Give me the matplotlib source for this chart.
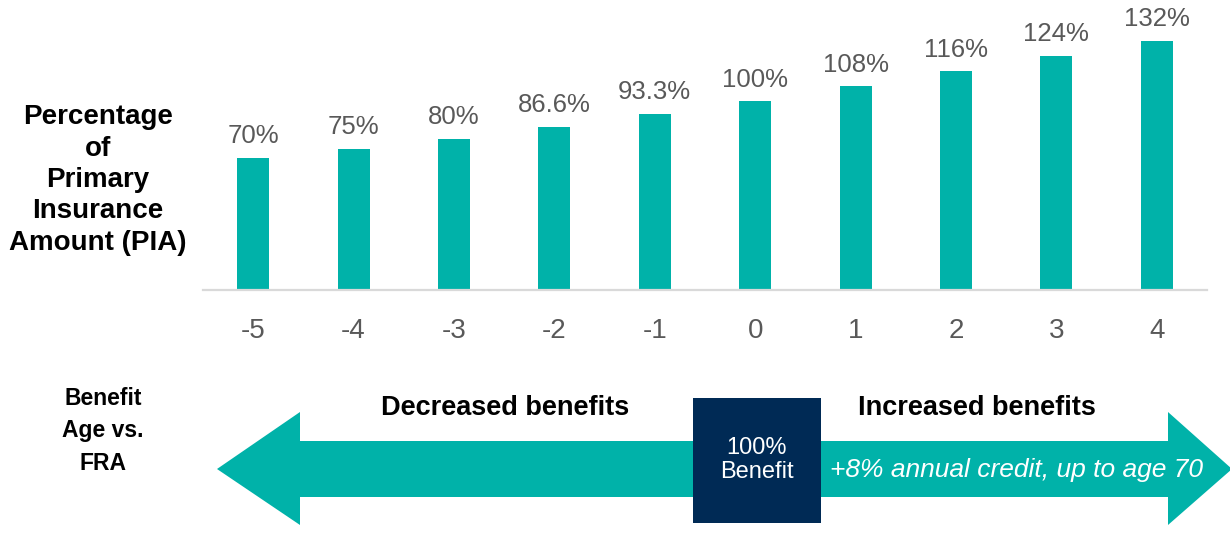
import numpy as np
import matplotlib
matplotlib.use("Agg")
import matplotlib.pyplot as plt
from matplotlib.patches import Polygon, Rectangle

plt.rcParams["font.family"] = ["Liberation Sans", "DejaVu Sans"]

# data
ages = ["-5", "-4", "-3", "-2", "-1", "0", "1", "2", "3", "4"]
pct = [70, 75, 80, 86.6, 93.3, 100, 108, 116, 124, 132]
pct_labels = ["70%", "75%", "80%", "86.6%", "93.3%", "100%", "108%", "116%", "124%", "132%"]

TEAL = "#00B2A9"
NAVY = "#002A55"
GREY = "#595959"
W, H = 1230, 533

fig = plt.figure(figsize=(W / 100, H / 100), dpi=100)

# bar chart, positioned in pixels
x0, x1, ybase = 203, 1207, 290
ax = fig.add_axes([x0 / W, 1 - ybase / H, (x1 - x0) / W, ybase / H])
x = np.arange(len(ages))
ax.bar(x, pct, width=0.32, color=TEAL, zorder=2)
for xi, v, lab in zip(x, pct, pct_labels):
    ax.annotate(lab, (xi, v), xytext=(0, 7), textcoords="offset points",
                ha="center", va="bottom", fontsize=18.5, color=GREY)
ax.set_xlim(-0.5, len(ages) - 0.5)
ax.set_ylim(0, ybase / 1.886)
ax.set_xticks(x)
ax.set_xticklabels(ages, fontsize=20, color=GREY)
ax.tick_params(axis="x", length=0, pad=20)
ax.set_yticks([])
for s in ["top", "right", "left"]:
    ax.spines[s].set_visible(False)
ax.spines["bottom"].set_color("#D9D9D9")
ax.spines["bottom"].set_linewidth(1.6)
ax.patch.set_alpha(0)

fig.text(98 / W, 1 - 180 / H, "Percentage\nof\nPrimary\nInsurance\nAmount (PIA)",
         ha="center", va="center", fontsize=20, fontweight="bold",
         linespacing=1.27, color="black")

# arrow panel drawn in pixel space
pa = fig.add_axes([0, 0, 1, 1], zorder=-1)
pa.set_xlim(0, W)
pa.set_ylim(H, 0)
pa.axis("off")

shaft_top, shaft_bot = 441, 497
head_top, head_bot = 412, 525
mid = (shaft_top + shaft_bot) / 2
arrow = [(217, mid), (300, head_top), (300, shaft_top), (1168, shaft_top),
         (1168, head_top), (1232, mid), (1168, head_bot), (1168, shaft_bot),
         (300, shaft_bot), (300, head_bot)]
pa.add_patch(Polygon(arrow, closed=True, facecolor=TEAL, edgecolor="none"))
pa.add_patch(Rectangle((693, 398), 128, 125, facecolor=NAVY, edgecolor="none"))

pa.text(757, 460, "100%\nBenefit", ha="center", va="center", color="white",
        fontsize=17, linespacing=1.15)
pa.text(1016, 470, "+8% annual credit, up to age 70", ha="center", va="center",
        color="white", fontsize=19, style="italic")
pa.text(505, 408, "Decreased benefits", ha="center", va="center",
        fontsize=19.5, fontweight="bold")
pa.text(977, 408, "Increased benefits", ha="center", va="center",
        fontsize=19.5, fontweight="bold")
pa.text(103, 431, "Benefit\nAge vs.\nFRA", ha="center", va="center",
        fontsize=16.5, fontweight="bold", linespacing=1.55)

fig.savefig("out.png", dpi=100)
